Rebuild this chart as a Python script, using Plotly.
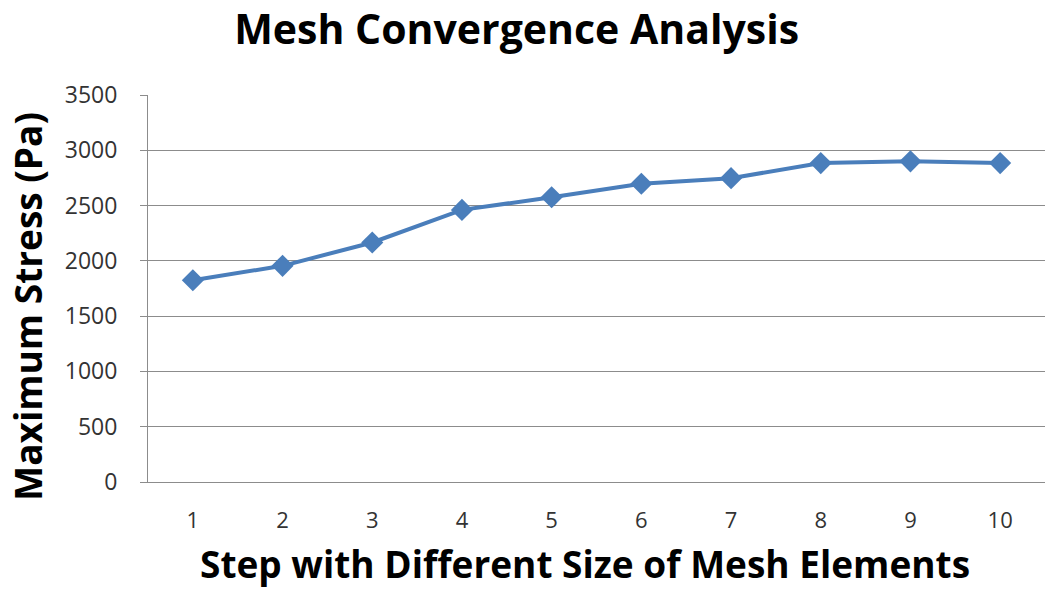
import plotly.graph_objects as go

# Dados da análise de convergência de malha
steps = [1, 2, 3, 4, 5, 6, 7, 8, 9, 10]
max_stress = [1825, 1955, 2166, 2461, 2575, 2697, 2748, 2884, 2900, 2884]
y_ticks = [0, 500, 1000, 1500, 2000, 2500, 3000, 3500]

FONT = "Open Sans, sans-serif"
LINE_COLOR = "#4A7EBB"
GRID_COLOR = "#8C8C8C"

fig = go.Figure()
fig.add_trace(go.Scatter(
    x=steps,
    y=max_stress,
    mode="lines+markers",
    line=dict(color=LINE_COLOR, width=4),
    marker=dict(symbol="diamond", size=17, color=LINE_COLOR),
    showlegend=False,
))

fig.update_layout(
    width=1050,
    height=602,
    margin=dict(l=148, r=5, t=95, b=120),
    paper_bgcolor="white",
    plot_bgcolor="white",
    font=dict(family=FONT, color="#333333"),
    title=dict(
        text="<b>Mesh Convergence Analysis</b>",
        font=dict(size=41, color="black"),
        x=0.492, xanchor="center",
        y=0.951, yanchor="middle",
    ),
)

# Títulos dos eixos como anotações (posição igual à do original, fora do centro)
fig.add_annotation(
    text="<b>Maximum Stress (Pa)</b>",
    textangle=-90,
    xref="paper", yref="paper",
    x=-0.134, y=0.455,
    xanchor="center", yanchor="middle",
    showarrow=False,
    font=dict(size=37, color="black"),
)
fig.add_annotation(
    text="<b>Step with Different Size of Mesh Elements</b>",
    xref="paper", yref="paper",
    x=0.487, y=-0.21,
    xanchor="center", yanchor="middle",
    showarrow=False,
    font=dict(size=37, color="black"),
)

fig.update_xaxes(
    range=[0.5, 10.5],
    tickvals=steps,
    ticks="",
    showgrid=False,
    showline=True,
    linecolor=GRID_COLOR,
    linewidth=1,
    tickfont=dict(size=22),
    ticklabelstandoff=19,
    automargin=False,
)

fig.update_yaxes(
    range=[0, 3500],
    tickvals=y_ticks,
    ticks="outside",
    ticklen=7,
    tickcolor=GRID_COLOR,
    showgrid=True,
    gridcolor=GRID_COLOR,
    gridwidth=1,
    showline=True,
    linecolor=GRID_COLOR,
    linewidth=1,
    zeroline=False,
    tickfont=dict(size=23),
    ticklabelstandoff=18,
    automargin=False,
)

# Sem modebar; remove a margem padrão de 8px do <body>
fig.write_html(
    "out.html",
    config={"displayModeBar": False},
    post_script="document.body.style.margin = '0';",
)
